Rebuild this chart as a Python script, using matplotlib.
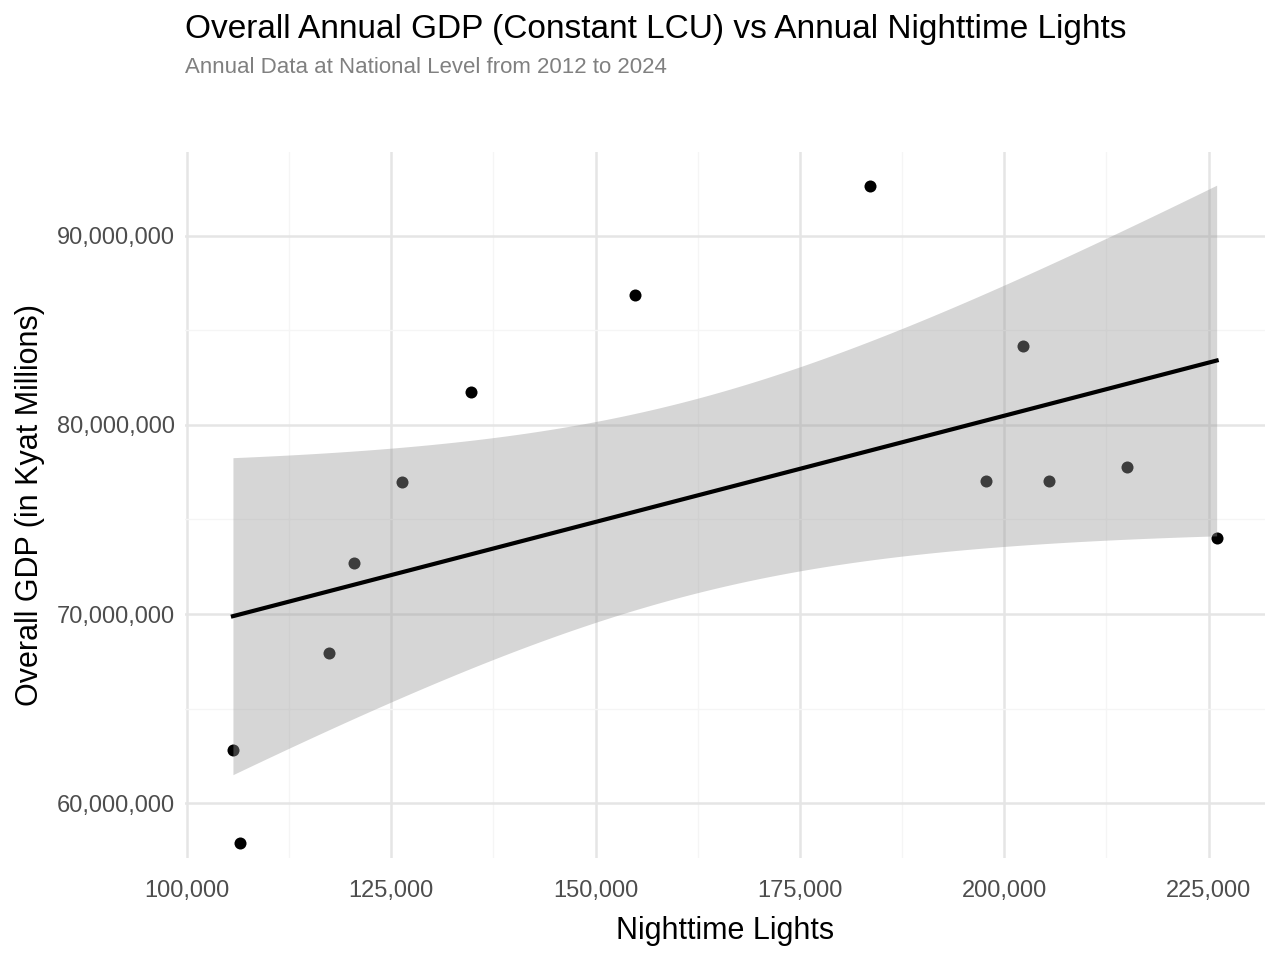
import numpy as np
import matplotlib
matplotlib.use("Agg")
import matplotlib.pyplot as plt
from matplotlib.ticker import FuncFormatter, MultipleLocator

plt.rcParams["font.family"] = ["Liberation Sans", "DejaVu Sans"]

# annual national data, 2012-2024
lights = [105626, 106482, 117368, 120425, 126296, 134736, 154794,
          183537, 197725, 202250, 205430, 214970, 225978]
gdp = [62.80e6, 57.88e6, 67.94e6, 72.70e6, 76.98e6, 81.75e6, 86.88e6,
       92.65e6, 77.04e6, 84.18e6, 77.04e6, 77.78e6, 74.02e6]

x = np.array(lights, dtype=float)
y = np.array(gdp, dtype=float)

# linear fit with 95% confidence band (like geom_smooth(method="lm"))
n = len(x)
slope, intercept = np.polyfit(x, y, 1)
xs = np.linspace(x.min(), x.max(), 200)
ys = intercept + slope * xs
resid = y - (intercept + slope * x)
s = np.sqrt(np.sum(resid ** 2) / (n - 2))
t_crit = 2.201  # t(0.975, df=11)
se = s * np.sqrt(1 / n + (xs - x.mean()) ** 2 / np.sum((x - x.mean()) ** 2))

fig = plt.figure(figsize=(12.8, 9.6), dpi=100)
ax = fig.add_axes([0.1445, 0.106, 0.988 - 0.1445, 0.842 - 0.106])

ax.scatter(x, y, s=75, color="black", zorder=3, linewidths=0)
ax.fill_between(xs, ys - t_crit * se, ys + t_crit * se, color="#999999",
                alpha=0.4, linewidth=0, zorder=4)
ax.plot(xs, ys, color="black", linewidth=3, zorder=5)

ax.set_xlim(99755, 231850)
ax.set_ylim(57.09e6, 94.44e6)
ax.xaxis.set_major_locator(MultipleLocator(25000))
ax.xaxis.set_minor_locator(MultipleLocator(12500))
ax.yaxis.set_major_locator(MultipleLocator(10e6))
ax.yaxis.set_minor_locator(MultipleLocator(5e6))
ax.xaxis.set_major_formatter(FuncFormatter(lambda v, p: f"{v:,.0f}"))
ax.yaxis.set_major_formatter(FuncFormatter(lambda v, p: f"{v:,.0f}"))

ax.grid(which="major", color="#e5e5e5", linewidth=1.8, zorder=0)
ax.grid(which="minor", color="#f5f5f5", linewidth=1.0, zorder=0)
ax.set_axisbelow(True)
for sp in ax.spines.values():
    sp.set_visible(False)
ax.tick_params(which="both", length=0, labelsize=17, labelcolor="#4d4d4d", pad=7)
ax.tick_params(axis="x", pad=16)

ax.set_xlabel("Nighttime Lights", fontsize=22, labelpad=10)
ax.set_ylabel("Overall GDP (in Kyat Millions)", fontsize=22, labelpad=9)

fig.text(0.1445, 0.985, "Overall Annual GDP (Constant LCU) vs Annual Nighttime Lights",
         fontsize=24, va="top", ha="left")
fig.text(0.1445, 0.941, "Annual Data at National Level from 2012 to 2024",
         fontsize=16, color="#808080", va="top", ha="left")

fig.savefig("out.png", dpi=100)
plt.close(fig)
